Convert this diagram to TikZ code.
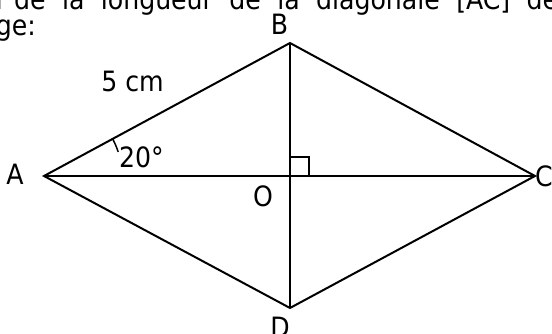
\documentclass[tikz,border=0pt]{standalone}
\usepackage{fontspec}
\setmainfont{DejaVu Sans Condensed}
\usepackage{tikz}
\usetikzlibrary{positioning, calc}
\definecolor{FigBlack}{HTML}{000000}
\tikzset{
    % Line styles
    sideline/.style={
        draw=FigBlack,
        line width=2pt
    },
    markline/.style={
        draw=FigBlack,
        line width=1.5pt
    },
    % Text styles
    figlabel/.style={
        inner sep=0pt,
        anchor=base,
        font=\fontsize{28}{32}\selectfont
    },
    bodytext/.style={
        inner sep=0pt,
        anchor=base west,
        font=\fontsize{28}{32}\selectfont
    }
}
\begin{document}
\begin{tikzpicture}[x=1pt, y=1pt]
                % Frame
                \clip (0,0) rectangle (552,334);

                % Text above the figure (justified line)
                \node[bodytext] (line1) at (14,324) {\llap{r }\makebox[544pt][s]{de la longueur de la diagonale [AC] de}};
                \node[bodytext, anchor=base east] (line2) at (36,298) {ge:};

                % Vertices
                \coordinate (A) at (44,158);
                \coordinate (B) at (290,291);
                \coordinate (C) at (535,158);
                \coordinate (D) at (290,26);
                \coordinate (O) at (290,158);

                % Rhombus and diagonals
                \draw[sideline] (A) -- (B) -- (C) -- (D) -- cycle;
                \draw[sideline] (A) -- (C);
                \draw[sideline] (B) -- (D);

                % Right angle at O
                \draw[markline] ([shift={(0,19)}]O) -- ++(19,0) -- ++(0,-19);

                % Angle at A
                \draw[markline] ([shift={(28.4:78)}]A) arc[start angle=28.4, end angle=18, radius=78];

                % Labels
                \node[figlabel] (labA) at (15,149) {A};
                \node[figlabel] (labB) at (279.5,299) {B};
                \node[figlabel, anchor=base west] (labC) at (535,147) {C};
                \node[figlabel] (labD) at (280,-4) {D};
                \node[figlabel] (labO) at (263,127) {O};
                \node[figlabel] (side) at (132.5,242) {5 cm};
                \node[figlabel] (angle) at (141.5,166) {20°};
            \end{tikzpicture}
\end{document}
